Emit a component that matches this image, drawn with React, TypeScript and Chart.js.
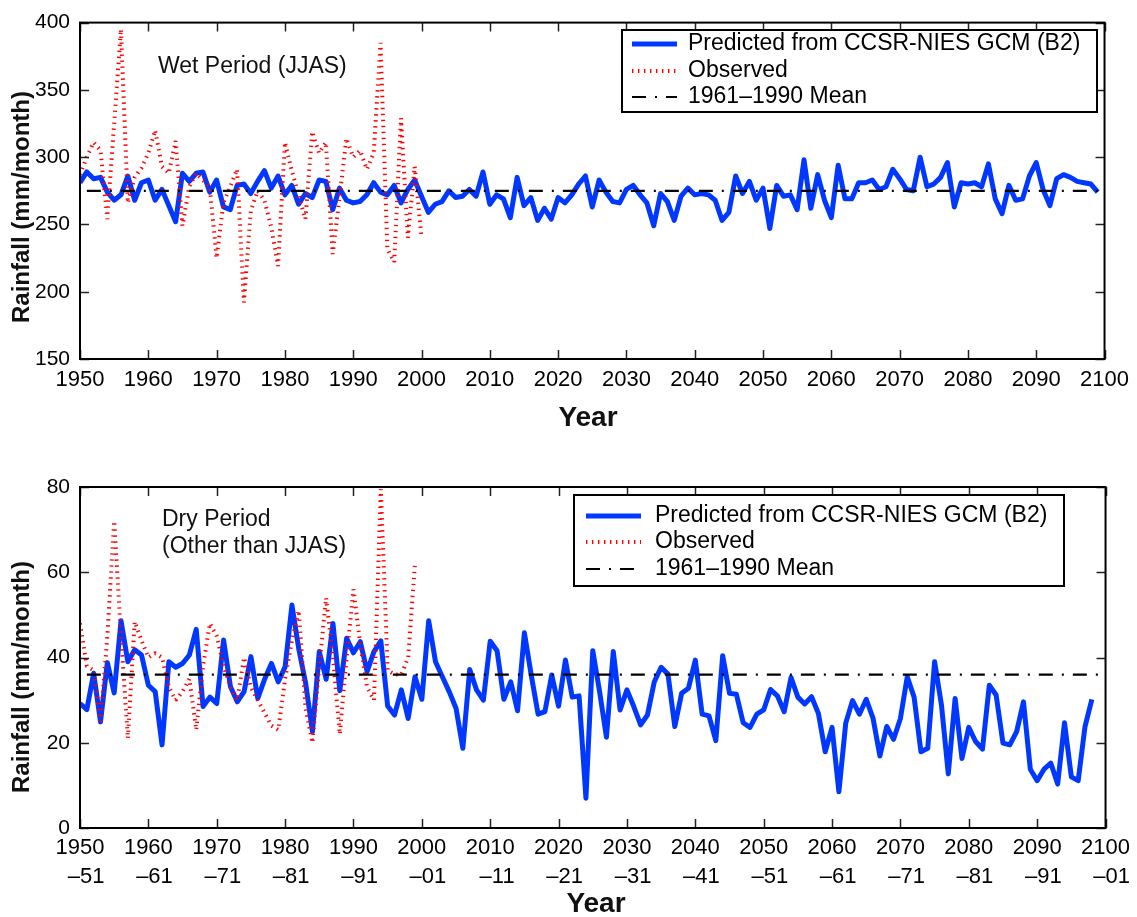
import React, { useEffect, useRef } from 'react';
import { Chart, registerables } from 'chart.js';

Chart.register(...registerables);

// ---------------- DATA ----------------
const START_YEAR = 1950;
const X_MIN = 1950;
const X_MAX = 2100;
const X_STEP = 10;
const MEAN_YEARS = [1951, 2100];

const LEGEND_LABELS = ['Predicted from CCSR-NIES GCM (B2)', 'Observed', '1961–1990 Mean'];

// Wet period (JJAS), mm/month, 1950..2099
const WET_PREDICTED = [
  281, 289, 284, 285, 274, 268, 272, 286, 268, 281,
  283, 268, 276, 264, 252, 288, 282, 288, 289, 274,
  283, 263, 261, 279, 280, 273, 282, 290, 277, 286,
  272, 279, 265, 273, 270, 283, 282, 261, 277, 268,
  266, 267, 272, 281, 274, 272, 279, 266, 276, 283,
  271, 259, 265, 267, 275, 270, 271, 276, 271, 289,
  265, 272, 269, 255, 285, 264, 270, 253, 262, 254,
  270, 266, 272, 280, 286, 263, 283, 274, 267, 266,
  276, 279, 272, 266, 249, 273, 267, 253, 271, 277,
  272, 273, 272, 268, 253, 259, 286, 273, 282, 268,
  277, 247, 279, 271, 272, 261, 298, 262, 287, 268,
  255, 294, 269, 269, 281, 281, 283, 276, 278, 291,
  284, 276, 275, 300, 278, 280, 285, 296, 263, 281,
  280, 281, 278, 295, 269, 258, 279, 268, 269, 286,
  296, 276, 264, 284, 287, 285, 282, 281, 280, 274,
];

// Wet period observed, 1950..2000
const WET_OBSERVED = [
  287, 300, 311, 305, 254, 325, 395, 266, 285, 292,
  303, 320, 293, 288, 312, 249, 278, 288, 283, 278,
  225, 266, 278, 291, 192, 260, 275, 268, 248, 219,
  311, 290, 272, 254, 319, 303, 311, 228, 270, 314,
  300, 305, 291, 303, 385, 232, 222, 329, 240, 293,
  240,
];

// Dry period (other than JJAS), mm/month, 1950-51..2098-99
const DRY_PREDICTED = [
  29.2, 27.8, 36.3, 24.9, 38.8, 31.7, 48.6, 39, 41.8, 40.6,
  33.5, 32, 19.5, 39, 37.7, 38.6, 40.6, 46.6, 28.5, 30.7,
  29.2, 44.1, 33.2, 29.6, 32, 40.2, 30.4, 34.9, 38.6, 34.3,
  37.8, 52.3, 42, 34, 22.6, 41.4, 34.9, 48, 32.2, 44.5,
  41.1, 43.7, 36.7, 41.4, 43.9, 28.6, 26.5, 32.4, 25.7, 35.5,
  30.2, 48.6, 39, 35.5, 32, 28.1, 18.7, 37.2, 32.4, 30,
  43.8, 41.6, 30.2, 34.3, 27.5, 45.8, 35.9, 26.7, 27.3, 35.9,
  28.6, 39.4, 30.7, 31, 7, 41.6, 32, 21.3, 41.4, 27.7,
  32.4, 28.5, 24.2, 26.5, 34.3, 37.7, 36.1, 23.8, 31.6, 32.8,
  39.4, 26.7, 26.3, 20.5, 40.4, 31.6, 31.4, 24.7, 23.6, 26.7,
  27.7, 32.5, 31, 27.3, 35.3, 30.7, 29.1, 30.8, 26.9, 17.9,
  23.6, 8.5, 24.6, 29.9, 26.7, 30.2, 25.7, 16.9, 23.8, 20.8,
  25.7, 35.5, 30.7, 17.9, 18.7, 39, 28.9, 12.7, 30.4, 16.3,
  23.6, 20.3, 18.5, 33.5, 31.2, 19.9, 19.5, 22.6, 29.6, 13.8,
  11.1, 13.8, 15.2, 10.3, 24.7, 12, 11.1, 23.8, 30.2,
];

// Dry period observed, 1950-51..1999-00
const DRY_OBSERVED = [
  48, 38, 37, 25, 45, 72, 45, 21, 48.4, 44,
  40, 41, 40, 33, 30, 32, 35, 23, 38, 48,
  45, 38, 33, 30, 40, 33, 30, 27, 24, 23,
  35, 44, 51, 28, 20, 38, 54, 40, 22, 40,
  56, 43, 33, 30, 79.5, 37, 36, 36, 40, 62,
];

const WET_MEAN = 275;
const DRY_MEAN = 36;

const WET_Y = { min: 150, max: 400, step: 50 };
const DRY_Y = { min: 0, max: 80, step: 20 };

const WET_NOTE = ['Wet Period (JJAS)'];
const DRY_NOTE = ['Dry Period', '(Other than JJAS)'];

const Y_TITLE = 'Rainfall (mm/month)';
const X_TITLE = 'Year';

// ---------------- STYLE ----------------
const BLUE = '#0038ff';
const RED = '#ff0000';
const FONT = "'Liberation Sans', Arial, Helvetica, sans-serif";

const W = 1137;
const PLOT_LEFT = 80;
const PLOT_RIGHT = 1108;
const TICK_LEN = 9;

type LegendBox = { x: number; y: number; w: number; h: number; rows: number[]; sx0: number; sx1: number; tx: number };

type PanelProps = {
  top: number;
  height: number;
  plotTop: number;
  plotBottom: number;
  predicted: number[];
  observed: number[];
  mean: number;
  yr: { min: number; max: number; step: number };
  legend: LegendBox;
  note: string[];
  noteX: number;
  noteY: number[];
  yTitleY: number;
  xTitleX: number;
  xTitleY: number;
  tickPad: number;
  secondLine: boolean;
};

function Panel(p: PanelProps) {
  const ref = useRef<HTMLCanvasElement | null>(null);

  useEffect(() => {
    const canvas = ref.current;
    if (!canvas) return;

    const decorations = {
      id: 'decorations',
      afterDraw(chart: any) {
        const ctx = chart.ctx as CanvasRenderingContext2D;
        const { left, top, right, bottom } = chart.chartArea;
        const xs = chart.scales.x;
        const ys = chart.scales.y;
        ctx.save();
        // inner ticks
        ctx.strokeStyle = '#222';
        ctx.lineWidth = 1.5;
        ctx.beginPath();
        xs.ticks.forEach((t: any) => {
          const px = Math.round(xs.getPixelForValue(t.value)) + 0.5;
          ctx.moveTo(px, bottom);
          ctx.lineTo(px, bottom - TICK_LEN);
          ctx.moveTo(px, top);
          ctx.lineTo(px, top + TICK_LEN);
        });
        ys.ticks.forEach((t: any) => {
          const py = Math.round(ys.getPixelForValue(t.value)) + 0.5;
          ctx.moveTo(left, py);
          ctx.lineTo(left + TICK_LEN, py);
          ctx.moveTo(right, py);
          ctx.lineTo(right - TICK_LEN, py);
        });
        ctx.stroke();
        // frame
        ctx.strokeStyle = '#000';
        ctx.lineWidth = 2;
        ctx.strokeRect(left, top, right - left, bottom - top);

        // second line of x tick labels
        if (p.secondLine) {
          ctx.fillStyle = '#000';
          ctx.textBaseline = 'middle';
          ctx.font = `22px ${FONT}`;
          xs.ticks.forEach((t: any) => {
            const px = xs.getPixelForValue(t.value);
            const wYear = ctx.measureText(String(t.value)).width;
            const nxt = String((t.value + 1) % 100).padStart(2, '0');
            ctx.textAlign = 'right';
            ctx.fillText('–' + nxt, px + wYear / 2, bottom + 49);
          });
        }

        // notes
        ctx.fillStyle = '#111';
        ctx.textAlign = 'left';
        ctx.textBaseline = 'middle';
        ctx.font = `23px ${FONT}`;
        p.note.forEach((s, i) => ctx.fillText(s, p.noteX, p.noteY[i]));

        // legend
        const L = p.legend;
        ctx.fillStyle = '#fff';
        ctx.fillRect(L.x, L.y, L.w, L.h);
        ctx.strokeStyle = '#000';
        ctx.lineWidth = 2;
        ctx.strokeRect(L.x, L.y, L.w, L.h);
        const ds = chart.data.datasets;
        ds.forEach((d: any, i: number) => {
          const yy = L.rows[i];
          ctx.save();
          ctx.strokeStyle = d.borderColor;
          ctx.lineWidth = d.borderWidth;
          ctx.setLineDash(d.borderDash || []);
          ctx.beginPath();
          ctx.moveTo(L.sx0, yy);
          ctx.lineTo(L.sx1, yy);
          ctx.stroke();
          ctx.restore();
          ctx.fillStyle = '#000';
          ctx.font = `23px ${FONT}`;
          ctx.textAlign = 'left';
          ctx.textBaseline = 'middle';
          ctx.fillText(d.label, L.tx, yy);
        });

        // axis titles
        ctx.fillStyle = '#111';
        ctx.font = `bold 24px ${FONT}`;
        ctx.textAlign = 'center';
        ctx.textBaseline = 'middle';
        ctx.save();
        ctx.translate(22, p.yTitleY);
        ctx.rotate(-Math.PI / 2);
        ctx.fillText(Y_TITLE, 0, 0);
        ctx.restore();
        ctx.font = `bold 28px ${FONT}`;
        ctx.fillText(X_TITLE, p.xTitleX, p.xTitleY);
        ctx.restore();
      },
    };

    const chart = new Chart(canvas, {
      type: 'line',
      data: {
        datasets: [
          {
            label: LEGEND_LABELS[0],
            data: p.predicted.map((v, i) => ({ x: START_YEAR + i, y: v })),
            borderColor: BLUE,
            borderWidth: 5,
            borderJoinStyle: 'round',
            pointRadius: 0,
            tension: 0,
            order: 2,
          },
          {
            label: LEGEND_LABELS[1],
            data: p.observed.map((v, i) => ({ x: START_YEAR + i, y: v })),
            borderColor: RED,
            borderWidth: 4,
            borderDash: [1.4, 4.6],
            borderJoinStyle: 'bevel',
            pointRadius: 0,
            tension: 0,
            order: 1,
          },
          {
            label: LEGEND_LABELS[2],
            data: MEAN_YEARS.map((x) => ({ x, y: p.mean })),
            borderColor: '#000',
            borderWidth: 2.2,
            borderDash: [14, 9, 2, 9],
            pointRadius: 0,
            order: 0,
          },
        ],
      },
      options: {
        animation: false,
        responsive: false,
        devicePixelRatio: 1,
        layout: { padding: { top: p.plotTop, right: W - PLOT_RIGHT, left: 0, bottom: 0 } },
        plugins: { legend: { display: false }, tooltip: { enabled: false } },
        scales: {
          x: {
            type: 'linear',
            min: X_MIN,
            max: X_MAX,
            grid: { display: false, drawTicks: false },
            border: { display: false },
            ticks: {
              stepSize: X_STEP,
              autoSkip: false,
              maxRotation: 0,
              padding: p.tickPad,
              color: '#000',
              font: { family: FONT, size: 22 },
              callback: (v: any) => String(v),
            },
            afterFit: (s: any) => {
              s.height = p.height - p.plotBottom;
            },
          },
          y: {
            type: 'linear',
            min: p.yr.min,
            max: p.yr.max,
            grid: { display: false, drawTicks: false },
            border: { display: false },
            ticks: {
              stepSize: p.yr.step,
              padding: 10,
              color: '#000',
              font: { family: FONT, size: 21 },
              callback: (v: any) => String(v),
            },
            afterFit: (s: any) => {
              s.width = PLOT_LEFT;
            },
          },
        },
      },
      plugins: [decorations],
    } as any);

    return () => chart.destroy();
  }, []);

  return (
    <canvas
      ref={ref}
      width={W}
      height={p.height}
      style={{ position: 'absolute', left: 0, top: p.top, width: W, height: p.height, display: 'block' }}
    />
  );
}

export default function App() {
  return (
    <div style={{ position: 'absolute', left: 0, top: 0, width: W, height: 917, background: '#fff' }}>
      <Panel
        top={0}
        height={450}
        plotTop={17}
        plotBottom={359}
        predicted={WET_PREDICTED}
        observed={WET_OBSERVED}
        mean={WET_MEAN}
        yr={WET_Y}
        legend={{ x: 622, y: 30, w: 475, h: 82, rows: [44, 71, 97], sx0: 632, sx1: 677, tx: 688 }}
        note={WET_NOTE}
        noteX={158}
        noteY={[67]}
        yTitleY={207}
        xTitleX={588}
        xTitleY={418}
        tickPad={8}
        secondLine={false}
      />
      <Panel
        top={460}
        height={457}
        plotTop={27}
        plotBottom={368}
        predicted={DRY_PREDICTED}
        observed={DRY_OBSERVED}
        mean={DRY_MEAN}
        yr={DRY_Y}
        legend={{ x: 574, y: 35, w: 490, h: 91, rows: [56, 82, 109], sx0: 586, sx1: 641, tx: 655 }}
        note={DRY_NOTE}
        noteX={162}
        noteY={[60, 87]}
        yTitleY={217}
        xTitleX={596}
        xTitleY={444}
        tickPad={7}
        secondLine={true}
      />
    </div>
  );
}
